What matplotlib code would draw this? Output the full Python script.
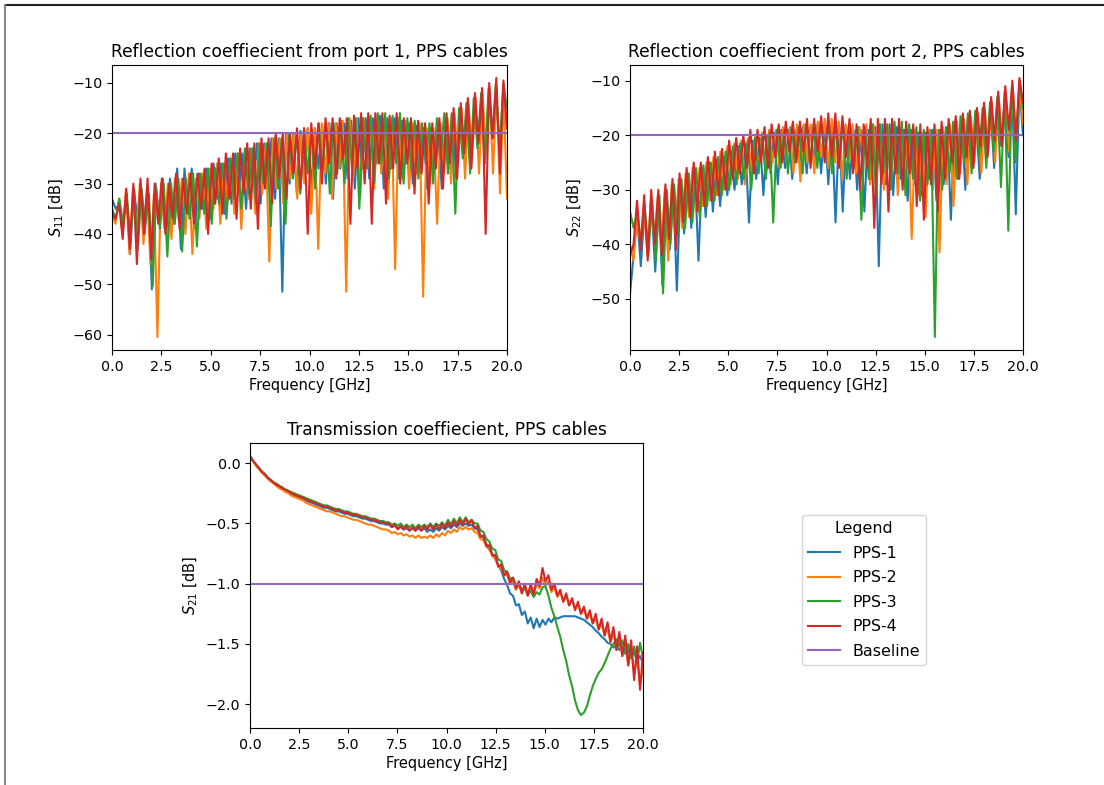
import matplotlib
matplotlib.use("Agg")
import matplotlib.pyplot as plt
from matplotlib.lines import Line2D
import numpy as np

plt.rcParams['font.size'] = 10.3
plt.rcParams['axes.labelsize'] = 10.5

labels = ['PPS-1', 'PPS-2', 'PPS-3', 'PPS-4']
f_max = 20  # [GHz]
f_ticks = [0, 2.5, 5, 7.5, 10, 12.5, 15, 17.5, 20]

# Reflection from port 1 [dB], alternating peak / dip
s11_pps1 = [-33, -35, -34, -39, -32, -44, -31, -37, -31, -40, -32, -51, -30, -37, -29, -40, -29, -38, -27, -43,
            -27, -36, -27, -39, -28, -35, -27, -37, -26, -33, -26, -36, -25, -34, -24, -32, -24, -35, -23, -31,
            -22, -34, -22, -30, -21, -33, -21, -51.5, -20, -30, -20, -32, -19.5, -28, -19, -31, -19, -27, -18.5, -30,
            -18, -33, -18, -27, -18, -29, -17.5, -31, -17, -27, -17, -29, -17, -26, -16.5, -31, -17, -27, -17, -29,
            -17.5, -26, -18, -30, -18.5, -27, -19, -31, -19, -28, -19, -31, -18, -27, -17, -29, -16, -25, -15, -27,
            -14, -22, -13, -25, -12, -21, -12, -23, -11, -19]
s11_pps2 = [-36, -38, -33, -40, -31, -44, -31, -39, -30, -42, -31, -46, -32, -60.5, -30, -39, -30, -41, -29, -37,
            -29, -40, -28, -44, -29, -37, -28, -39, -27, -35, -26, -38, -26, -34, -25, -36, -24, -39, -24, -33,
            -23, -36, -22, -32, -22, -45.5, -21, -31, -21, -34, -20, -29, -20, -33, -20, -30, -19, -36, -19, -43,
            -18, -28, -18, -33, -18, -27, -17.5, -51.5, -17, -29, -17, -33, -17, -27, -16.5, -31, -17, -28, -17, -33,
            -17, -47, -17, -29, -17.5, -31, -18, -28, -18, -52.5, -19, -30, -19, -38, -18, -28, -17, -30, -16, -26,
            -15, -29, -14, -25, -13, -28, -12, -24, -11, -28, -11, -32, -12, -33]
s11_pps3 = [-35, -37, -33, -38, -32, -41, -31, -43, -31, -38, -32, -50.5, -31, -39, -30, -44.5, -30, -38, -29, -43.5,
            -29, -37, -28, -42.5, -28, -36, -27, -38, -27, -34, -26, -37, -25, -33, -24, -35, -23, -32, -23, -34,
            -22, -30, -22, -38.5, -21, -31, -21, -38, -20, -29, -20, -32, -19, -28, -19, -31, -18, -27, -18, -32,
            -18, -28, -17.5, -30, -17, -27, -17, -35, -17, -27, -16.5, -30, -16, -26, -16, -29, -16.5, -26, -16, -30,
            -17, -27, -17.5, -29, -18, -26, -18, -30, -17, -25, -16, -28, -16, -36, -15, -25, -14, -28, -13, -23,
            -12, -26, -11, -21, -10, -24, -10, -15]
s11_pps4 = [-36, -37, -34, -41, -31, -43, -30, -46, -29, -40, -29, -45, -30, -38, -29, -40, -30, -37, -28, -39,
            -29, -36, -28, -38, -28, -35, -27, -40, -26, -34, -25, -36, -24, -33, -24, -37, -23, -32, -22, -35,
            -22, -39, -21, -31, -21, -34, -20, -29, -20, -33, -20, -28, -19, -31, -19, -40, -18, -27, -18, -30,
            -17, -26, -17, -29, -17, -25, -17, -38, -16.5, -27, -16, -30, -16, -38, -16, -26, -16, -34, -16.5, -27,
            -16, -30, -17, -26, -17, -32, -17.5, -28, -18, -34, -18, -27, -17, -31, -16, -26, -15, -29, -14, -24,
            -13, -27, -12, -22, -11, -40, -10, -21, -9, -28, -9.5, -19]

# Reflection from port 2 [dB]
s22_pps1 = [-49, -42, -35, -44, -34, -40, -33, -45, -32, -47.5, -31, -41, -30, -48.5, -29, -38, -28, -37, -27, -43,
            -26, -35, -25, -34, -24.5, -33, -24, -31, -23, -30, -22, -29, -21.5, -36, -21, -28, -20.5, -31, -20, -27,
            -19.5, -29, -19, -26, -19, -28, -19, -25, -18.5, -27, -18.5, -25, -18, -27, -18, -29, -18, -36, -18, -34,
            -18.5, -28, -19, -30, -19, -34, -19, -28, -18.5, -44, -18, -29, -18, -31, -18.5, -28, -19, -32, -19, -29,
            -19.5, -31, -19.5, -28, -19, -32, -19, -29, -18.5, -35.5, -18, -28, -17.5, -30, -17, -26, -16.5, -28,
            -15.5, -24, -14.5, -26, -13.5, -22, -12.5, -24, -12, -34.5, -11, -20]
s22_pps2 = [-40, -43, -35, -40, -33, -42, -32, -39, -31, -41, -30, -43, -29, -38, -28, -37, -27, -35, -26, -34,
            -26, -33, -25, -32, -24, -31, -23, -30, -22, -29, -21.5, -28, -21, -29, -20.5, -27, -20, -26, -19.5, -27,
            -19, -25, -19, -26, -18.5, -25, -18.5, -27, -18, -28.5, -18, -25, -18, -27, -17.5, -24, -17, -26, -17, -25,
            -17.5, -28, -18, -25, -18, -27, -18.5, -24, -18, -29, -18, -26, -18, -30, -18, -27, -18, -31, -18.5, -28,
            -19, -39, -19, -31, -19.5, -35, -19, -30, -19, -41.5, -18.5, -29, -18, -33, -17.5, -27, -17, -29,
            -16.5, -25, -16, -27, -15, -23, -14, -25, -13, -21, -12, -23, -11, -20, -11, -18]
s22_pps3 = [-34, -37, -34, -40, -33, -42, -32, -43, -31, -49, -30, -40, -29, -38, -28, -37, -27, -36, -26, -35,
            -25.5, -33, -25, -32, -24, -31, -23, -30, -22, -29, -21.5, -28, -21, -30, -20.5, -27, -20, -28, -19.5, -36,
            -19, -26, -19, -27, -18.5, -25, -18.5, -27, -18, -25, -18, -26, -17.5, -24, -17.5, -27, -18, -25, -18, -28,
            -18.5, -26, -18.5, -35.5, -18.5, -28, -18, -31, -18, -27, -18, -30, -17.5, -27, -17.5, -31, -18, -28,
            -18.5, -32, -19, -29, -19, -57, -19, -30, -18.5, -27, -17.5, -28, -16.5, -25, -16, -27, -15.5, -24,
            -15, -26, -14, -23, -13, -29.5, -12, -37.5, -11, -25, -10, -15]
s22_pps4 = [-42, -40, -32, -41, -31, -43, -30, -40, -30, -42, -29, -39, -28, -41, -27, -36, -26, -35, -25, -34,
            -25, -33, -24, -32, -23, -31, -22.5, -30, -21, -28, -20.5, -27, -20, -26, -19, -27, -19, -25, -18.5, -26,
            -18, -24, -18, -25, -17.5, -23, -17.5, -25, -17.5, -23, -17, -26, -17, -23, -16.5, -25, -16, -24, -16, -26,
            -16.5, -24, -17, -27, -18, -30, -18, -26, -17, -37, -17, -29, -17, -34, -17, -27, -17, -30, -17.5, -27,
            -18, -33, -18, -35.5, -18.5, -29, -18, -34, -17.5, -28, -17, -25, -16.5, -28, -16, -24, -15.5, -26,
            -15, -22, -14, -24, -13, -21, -12, -22, -11, -19, -10, -21, -9.5, -14]

# Transmission [dB]
s21_pps1 = [0.06, 0.02, -0.01, -0.04, -0.07, -0.10, -0.12, -0.14, -0.16, -0.18,
            -0.20, -0.21, -0.23, -0.24, -0.25, -0.27, -0.28, -0.29, -0.30, -0.31,
            -0.32, -0.33, -0.34, -0.35, -0.36, -0.37, -0.37, -0.38, -0.39, -0.40,
            -0.40, -0.41, -0.42, -0.42, -0.43, -0.44, -0.44, -0.45, -0.46, -0.46,
            -0.47, -0.48, -0.48, -0.49, -0.50, -0.50, -0.51,
            -0.51, -0.53, -0.52, -0.54, -0.53, -0.55, -0.54, -0.56, -0.54, -0.56, -0.54, -0.56, -0.54, -0.57,
            -0.55, -0.57, -0.54, -0.56, -0.53, -0.55, -0.52, -0.54, -0.51, -0.53, -0.50, -0.52, -0.50, -0.52, -0.51,
            -0.54, -0.55, -0.60, -0.62, -0.67, -0.70, -0.75, -0.79, -0.84, -0.89, -0.96, -1.01, -1.08, -1.10,
            -1.18, -1.17, -1.26, -1.23, -1.33, -1.28, -1.37, -1.29, -1.36, -1.30, -1.34, -1.29, -1.32, -1.28,
            -1.29, -1.28, -1.27, -1.27, -1.27, -1.27, -1.27, -1.28, -1.29, -1.30, -1.32, -1.34, -1.36, -1.39,
            -1.41, -1.44, -1.46, -1.49, -1.50, -1.53, -1.51, -1.55, -1.53, -1.58, -1.55, -1.61, -1.57, -1.64,
            -1.60, -1.66]
s21_pps2 = [0.06, 0.02, -0.02, -0.05, -0.08, -0.10, -0.13, -0.15, -0.17, -0.19,
            -0.21, -0.22, -0.24, -0.25, -0.27, -0.28, -0.29, -0.30, -0.31, -0.33,
            -0.34, -0.35, -0.36, -0.37, -0.38, -0.39, -0.40, -0.40, -0.41, -0.42,
            -0.43, -0.44, -0.44, -0.45, -0.46, -0.47, -0.47, -0.48, -0.49, -0.50,
            -0.51, -0.51, -0.52, -0.53, -0.54, -0.55, -0.55,
            -0.56, -0.58, -0.57, -0.59, -0.58, -0.60, -0.59, -0.61, -0.60, -0.62, -0.60, -0.62, -0.61, -0.62,
            -0.60, -0.62, -0.59, -0.61, -0.58, -0.60, -0.56, -0.58, -0.55, -0.57, -0.53, -0.55, -0.53, -0.55, -0.54,
            -0.57, -0.58, -0.63, -0.64, -0.69, -0.72, -0.76, -0.80, -0.85, -0.87, -0.93, -0.93, -1.00, -0.98,
            -1.05, -1.01, -1.08, -1.03, -1.10, -1.03, -1.09, -1.00, -1.04, -0.95, -1.01, -0.98, -1.07, -1.03,
            -1.11, -1.07, -1.15, -1.10, -1.18, -1.13, -1.21, -1.17, -1.25, -1.21, -1.29, -1.25, -1.33, -1.29,
            -1.38, -1.33, -1.43, -1.37, -1.49, -1.41, -1.55, -1.45, -1.60, -1.49, -1.67, -1.55, -1.75, -1.62,
            -1.85, -1.70]
s21_pps3 = [0.06, 0.02, -0.01, -0.04, -0.07, -0.09, -0.12, -0.14, -0.16, -0.17,
            -0.19, -0.20, -0.22, -0.23, -0.24, -0.25, -0.26, -0.27, -0.28, -0.29,
            -0.30, -0.31, -0.32, -0.33, -0.34, -0.35, -0.35, -0.36, -0.37, -0.38,
            -0.38, -0.39, -0.40, -0.40, -0.41, -0.42, -0.42, -0.43, -0.44, -0.44,
            -0.45, -0.46, -0.46, -0.47, -0.48, -0.48, -0.49,
            -0.49, -0.51, -0.50, -0.52, -0.50, -0.53, -0.51, -0.53, -0.51, -0.54, -0.51, -0.53, -0.51, -0.53,
            -0.50, -0.53, -0.50, -0.52, -0.49, -0.52, -0.47, -0.51, -0.46, -0.50, -0.45, -0.49, -0.45, -0.49, -0.47,
            -0.50, -0.50, -0.56, -0.57, -0.63, -0.65, -0.71, -0.72, -0.80, -0.81, -0.89, -0.90, -0.96, -0.95,
            -1.01, -0.99, -1.06, -1.03, -1.09, -1.06, -1.11, -1.07, -1.09, -1.03, -1.02, -1.10, -1.20, -1.27,
            -1.36, -1.44, -1.55, -1.64, -1.76, -1.85, -1.97, -2.05, -2.09, -2.07, -2.02, -1.93, -1.85, -1.79,
            -1.74, -1.71, -1.66, -1.60, -1.54, -1.50, -1.46, -1.52, -1.47, -1.58, -1.50, -1.62, -1.52, -1.66,
            -1.49, -1.62]
s21_pps4 = [0.06, 0.02, -0.01, -0.04, -0.07, -0.09, -0.12, -0.14, -0.16, -0.18,
            -0.19, -0.21, -0.22, -0.23, -0.25, -0.26, -0.27, -0.28, -0.29, -0.30,
            -0.31, -0.32, -0.33, -0.34, -0.35, -0.36, -0.36, -0.37, -0.38, -0.39,
            -0.39, -0.40, -0.41, -0.41, -0.42, -0.43, -0.43, -0.44, -0.45, -0.45,
            -0.46, -0.47, -0.47, -0.48, -0.49, -0.49, -0.50,
            -0.50, -0.53, -0.51, -0.55, -0.52, -0.55, -0.52, -0.56, -0.53, -0.56, -0.52, -0.56, -0.52, -0.55,
            -0.51, -0.55, -0.51, -0.55, -0.50, -0.54, -0.49, -0.53, -0.48, -0.52, -0.47, -0.51, -0.46, -0.51, -0.47,
            -0.54, -0.52, -0.61, -0.60, -0.69, -0.68, -0.77, -0.76, -0.86, -0.84, -0.93, -0.90, -0.99, -0.95,
            -1.04, -0.98, -1.08, -1.00, -1.10, -1.00, -1.09, -0.96, -1.02, -0.87, -0.98, -0.93, -1.05, -1.00,
            -1.10, -1.05, -1.15, -1.08, -1.18, -1.12, -1.22, -1.15, -1.25, -1.19, -1.29, -1.22, -1.33, -1.25,
            -1.38, -1.29, -1.43, -1.32, -1.48, -1.36, -1.55, -1.40, -1.60, -1.43, -1.68, -1.47, -1.80, -1.52,
            -1.88, -1.58]

s11_baseline = -20
s22_baseline = -20
s21_baseline = -1.0

s11 = [s11_pps1, s11_pps2, s11_pps3, s11_pps4]
s22 = [s22_pps1, s22_pps2, s22_pps3, s22_pps4]
s21 = [s21_pps1, s21_pps2, s21_pps3, s21_pps4]

W, H = 1104, 785
fig = plt.figure(figsize=(W / 100, H / 100), dpi=100)

# axes positions in pixels (left, top, right, bottom)
def px_axes(l, t, r, b):
    return fig.add_axes([l / W, 1 - b / H, (r - l) / W, (b - t) / H])

ax1 = px_axes(112, 65, 507, 350)
ax2 = px_axes(630, 65, 1023, 350)
ax3 = px_axes(250, 443, 643, 728)


def draw(ax, curves, base, title, ylab):
    for vals, lab in zip(curves, labels):
        f = np.linspace(0, f_max, len(vals))
        ax.plot(f, vals, label=lab)
    ax.axhline(base, color='C4', label='Baseline')
    ax.set_xlim(0, f_max)
    ax.set_xticks(f_ticks)
    ax.set_xticklabels(['%.1f' % t for t in f_ticks])
    ax.set_title(title)
    ax.set_xlabel('Frequency [GHz]', labelpad=3)
    ax.set_ylabel(ylab)


draw(ax1, s11, s11_baseline, 'Reflection coeffiecient from port 1, PPS cables', '$S_{11}$ [dB]')
draw(ax2, s22, s22_baseline, 'Reflection coeffiecient from port 2, PPS cables', '$S_{22}$ [dB]')
draw(ax3, s21, s21_baseline, 'Transmission coeffiecient, PPS cables', '$S_{21}$ [dB]')

handles, labs = ax3.get_legend_handles_labels()
fig.legend(handles, labs, title='Legend', loc='center', bbox_to_anchor=(864 / W, 1 - 590 / H),
           fontsize=11.4, title_fontsize=11.4, labelspacing=0.6)

# notebook cell frame
fig.add_artist(Line2D([5 / W, 1], [1 - 5 / H, 1 - 5 / H], color='#222222', lw=1.5))
fig.add_artist(Line2D([5 / W, 5 / W], [0, 1 - 5 / H], color='#888888', lw=1.5))

fig.savefig('out.png', dpi=100)
